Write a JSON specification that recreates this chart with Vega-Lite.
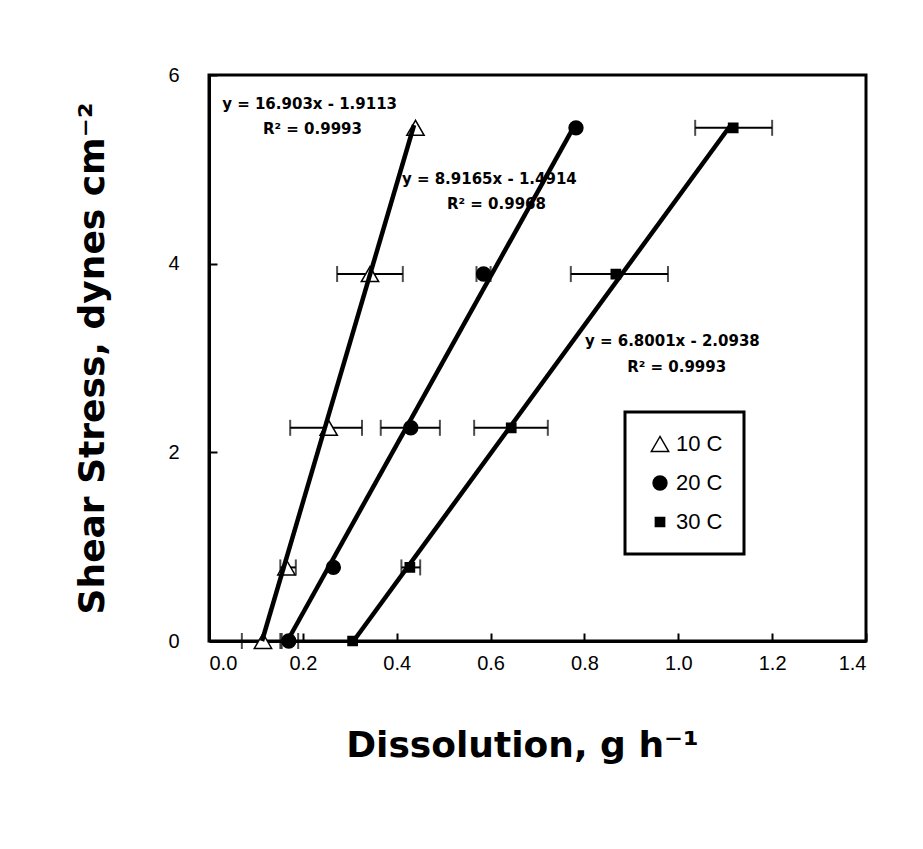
{
  "$schema": "https://vega.github.io/schema/vega-lite/v6.json",
  "autosize": {"type": "none"},
  "width": 657,
  "height": 566,
  "padding": {"left": 209, "top": 75, "right": 57, "bottom": 208},
  "background": "white",
  "config": {
    "view": {"stroke": "black", "strokeWidth": 3},
    "axis": {
      "grid": false,
      "domainColor": "black",
      "domainWidth": 3,
      "tickColor": "black",
      "tickWidth": 2,
      "labelColor": "black",
      "labelFont": "Liberation Sans",
      "labelFontSize": 20,
      "titleColor": "black",
      "titleFont": "DejaVu Sans",
      "titleFontWeight": "bold",
      "titleFontSize": 36
    },
    "legend": {
      "orient": "none",
      "legendX": 416,
      "legendY": 337,
      "strokeColor": "black",
      "strokeWidth": 3,
      "padding": 21,
      "rowPadding": 17,
      "labelFont": "Liberation Sans",
      "labelFontSize": 22,
      "labelColor": "black",
      "labelOffset": 5,
      "symbolOffset": 3,
      "symbolStrokeColor": "black",
      "symbolStrokeWidth": 1.5
    }
  },
  "datasets": {
    "points": [
      {"series": "10 C", "x": 0.115, "y": 0},
      {"series": "10 C", "x": 0.165, "y": 0.78},
      {"series": "10 C", "x": 0.255, "y": 2.26},
      {"series": "10 C", "x": 0.343, "y": 3.89},
      {"series": "10 C", "x": 0.44, "y": 5.44},
      {"series": "20 C", "x": 0.17, "y": 0},
      {"series": "20 C", "x": 0.265, "y": 0.78},
      {"series": "20 C", "x": 0.43, "y": 2.26},
      {"series": "20 C", "x": 0.585, "y": 3.89},
      {"series": "20 C", "x": 0.782, "y": 5.44},
      {"series": "30 C", "x": 0.306, "y": 0},
      {"series": "30 C", "x": 0.428, "y": 0.78},
      {"series": "30 C", "x": 0.644, "y": 2.26},
      {"series": "30 C", "x": 0.867, "y": 3.89},
      {"series": "30 C", "x": 1.117, "y": 5.44}
    ],
    "errs": [
      {"series": "10 C", "y": 0, "xmin": 0.07, "xmax": 0.152},
      {"series": "10 C", "y": 0.78, "xmin": 0.152, "xmax": 0.185},
      {"series": "10 C", "y": 2.26, "xmin": 0.173, "xmax": 0.326},
      {"series": "10 C", "y": 3.89, "xmin": 0.273, "xmax": 0.413},
      {"series": "20 C", "y": 0, "xmin": 0.155, "xmax": 0.19},
      {"series": "20 C", "y": 2.26, "xmin": 0.366, "xmax": 0.492},
      {"series": "20 C", "y": 3.89, "xmin": 0.57, "xmax": 0.6},
      {"series": "30 C", "y": 0.78, "xmin": 0.41, "xmax": 0.45},
      {"series": "30 C", "y": 2.26, "xmin": 0.565, "xmax": 0.722},
      {"series": "30 C", "y": 3.89, "xmin": 0.771, "xmax": 0.978},
      {"series": "30 C", "y": 5.44, "xmin": 1.036, "xmax": 1.2}
    ],
    "lines": [
      {"series": "10 C", "x": 0.113, "y": 0},
      {"series": "10 C", "x": 0.437, "y": 5.47},
      {"series": "20 C", "x": 0.167, "y": 0},
      {"series": "20 C", "x": 0.783, "y": 5.5},
      {"series": "30 C", "x": 0.308, "y": 0},
      {"series": "30 C", "x": 1.112, "y": 5.47}
    ],
    "labels": [
      {"x": 0.028, "y": 5.69, "text": "y = 16.903x - 1.9113"},
      {"x": 0.115, "y": 5.43, "text": "R² = 0.9993"},
      {"x": 0.411, "y": 4.9, "text": "y = 8.9165x - 1.4914"},
      {"x": 0.507, "y": 4.63, "text": "R² = 0.9968"},
      {"x": 0.801, "y": 3.185, "text": "y = 6.8001x - 2.0938"},
      {"x": 0.891, "y": 2.9, "text": "R² = 0.9993"}
    ]
  },
  "layer": [
    {
      "data": {"name": "errs"},
      "mark": {"type": "errorbar", "color": "black", "thickness": 2, "ticks": {"size": 16, "thickness": 2, "color": "black"}},
      "encoding": {
        "x": {"field": "xmin", "type": "quantitative", "scale": {"domain": [0, 1.4], "nice": false, "zero": false},
          "title": "Dissolution, g h⁻¹",
          "axis": {"values": [0, 0.2, 0.4, 0.6, 0.8, 1.0, 1.2, 1.4], "format": ".1f", "tickSize": -8, "labelPadding": 20, "titlePadding": 55, "titleX": 313}},
        "x2": {"field": "xmax"},
        "y": {"field": "y", "type": "quantitative", "scale": {"domain": [0, 6], "nice": false},
          "title": "Shear Stress, dynes cm⁻²",
          "axis": {"values": [0, 2, 4, 6], "format": "d", "tickSize": -8, "labelPadding": 38, "titlePadding": 56}}
      }
    },
    {
      "data": {"name": "points"},
      "mark": {"type": "point", "filled": true, "stroke": "black", "strokeWidth": 1.5, "opacity": 1},
      "encoding": {
        "x": {"field": "x", "type": "quantitative"},
        "y": {"field": "y", "type": "quantitative"},
        "shape": {"field": "series", "type": "nominal", "scale": {"domain": ["10 C", "20 C", "30 C"], "range": ["triangle-up", "circle", "square"]},
          "legend": {"title": null}},
        "fill": {"field": "series", "type": "nominal", "scale": {"domain": ["10 C", "20 C", "30 C"], "range": ["white", "black", "black"]},
          "legend": {"title": null}},
        "stroke": {"field": "series", "type": "nominal", "scale": {"domain": ["10 C", "20 C", "30 C"], "range": ["black", "black", "black"]},
          "legend": {"title": null}},
        "size": {"field": "series", "type": "nominal", "scale": {"domain": ["10 C", "20 C", "30 C"], "range": [300, 85, 110]},
          "legend": {"title": null}}
      }
    },
    {
      "data": {"name": "lines"},
      "mark": {"type": "line", "color": "black", "strokeWidth": 4.5},
      "encoding": {
        "x": {"field": "x", "type": "quantitative"},
        "y": {"field": "y", "type": "quantitative"},
        "detail": {"field": "series", "type": "nominal"}
      }
    },
    {
      "data": {"name": "labels"},
      "mark": {"type": "text", "align": "left", "baseline": "middle", "font": "DejaVu Sans", "fontWeight": "bold", "fontSize": 15, "color": "black"},
      "encoding": {
        "x": {"field": "x", "type": "quantitative"},
        "y": {"field": "y", "type": "quantitative"},
        "text": {"field": "text", "type": "nominal"}
      }
    }
  ]
}
